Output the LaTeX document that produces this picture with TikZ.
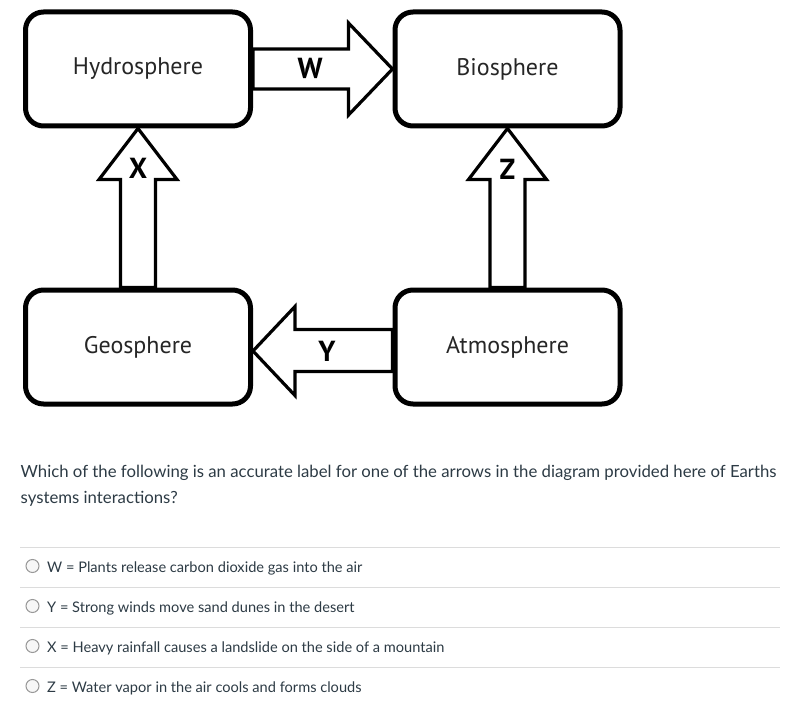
\documentclass[tikz,border=0pt]{standalone}
\usepackage{fontspec}
\usepackage{xcolor}
\usepackage{tikz}
\usetikzlibrary{calc}
\usetikzlibrary{positioning}
\newfontfamily\labelfont{PT Sans}
\newfontfamily\quizfont{Lato}
\definecolor{quiztext}{HTML}{2D3B45}
\definecolor{rulegray}{HTML}{DCDCDC}

\begin{document}
\begin{tikzpicture}[x=1pt,y=-1pt,
  sphere/.style={draw,line width=5pt,rounded corners=18pt,minimum width=225pt,minimum height=114pt,
    font=\labelfont\fontsize{24}{28}\selectfont,text=black!85},
  flow/.style={draw,line width=3.2pt,fill=white,line join=miter},
  flowlabel/.style={font=\labelfont\bfseries\fontsize{29}{32}\selectfont,inner sep=0pt},
  question/.style={anchor=base west,inner sep=0pt,text=quiztext,font=\quizfont\fontsize{16.75}{20}\selectfont},
  answer/.style={anchor=base west,inner sep=0pt,text=quiztext,font=\quizfont\fontsize{14.6}{17}\selectfont},
  radio/.style={draw=gray!80,fill=gray!6,line width=1pt,circle,minimum size=13pt,inner sep=0pt},
  divider/.style={draw=rulegray,line width=1pt}]

    \useasboundingbox[fill=white] (0,0) rectangle (800,722);

    % the four spheres
    \node[sphere] (hydro) at (138,69) {Hydrosphere};
    \node[sphere] (bio) at (507.5,69) {Biosphere};
    \node[sphere] (geo) at (138,347) {Geosphere};
    \node[sphere] (atmo) at (507.5,347) {Atmosphere};

    % block arrows between them
    \draw[flow] ($(hydro.east)+(0,-20)$) -- ($(bio.west)+(-44,-20)$) -- ($(bio.west)+(-44,-46)$)
        -- (bio.west) -- ($(bio.west)+(-44,46)$) -- ($(bio.west)+(-44,20)$) -- ($(hydro.east)+(0,20)$) -- cycle;
    \draw[flow] ($(geo.north)+(-17.5,0)$) -- ($(hydro.south)+(-17.5,51)$) -- ($(hydro.south)+(-39,51)$)
        -- (hydro.south) -- ($(hydro.south)+(39,51)$) -- ($(hydro.south)+(17.5,51)$) -- ($(geo.north)+(17.5,0)$) -- cycle;
    \draw[flow] ($(atmo.north)+(-17.5,0)$) -- ($(bio.south)+(-17.5,51)$) -- ($(bio.south)+(-39,51)$)
        -- (bio.south) -- ($(bio.south)+(39,51)$) -- ($(bio.south)+(17.5,51)$) -- ($(atmo.north)+(17.5,0)$) -- cycle;
    \draw[flow] ($(atmo.west)+(0,-17.5)$) -- ($(geo.east)+(42,-17.5)$) -- ($(geo.east)+(42,-40.5)$)
        -- ($(geo.east)+(0,4)$) -- ($(geo.east)+(42,48.5)$) -- ($(geo.east)+(42,24.5)$) -- ($(atmo.west)+(0,24.5)$) -- cycle;

    \node[flowlabel] (lw) at ($(hydro.east)!0.41!(bio.west)+(0,-1)$) {W};
    \node[flowlabel] (lx) at ($(hydro.south)!0.25!(geo.north)$) {X};
    \node[flowlabel] (lz) at ($(bio.south)!0.26!(atmo.north)$) {Z};
    \node[flowlabel] (ly) at ($(atmo.west)!0.47!(geo.east)+(0,4)$) {Y};

    % question and choices
    \node[question] (q1) at (20.5,477) {Which of the following is an accurate label for one of the arrows in the diagram provided here of Earths};
    \node[question] (q2) at (20.5,503) {systems interactions?};

    \foreach \y in {547,587,627,667}
        \draw[divider] (20,\y) -- (780,\y);

    \node[radio] (r1) at (32.5,566) {};
    \node[answer] (a1) at (47,572) {W = Plants release carbon dioxide gas into the air};
    \node[radio] (r2) at (32.5,606) {};
    \node[answer] (a2) at (47,612) {Y = Strong winds move sand dunes in the desert};
    \node[radio] (r3) at (32.5,646) {};
    \node[answer] (a3) at (47,652) {X = Heavy rainfall causes a landslide on the side of a mountain};
    \node[radio] (r4) at (32.5,686) {};
    \node[answer] (a4) at (47,692) {Z = Water vapor in the air cools and forms clouds};
\end{tikzpicture}
\end{document}
